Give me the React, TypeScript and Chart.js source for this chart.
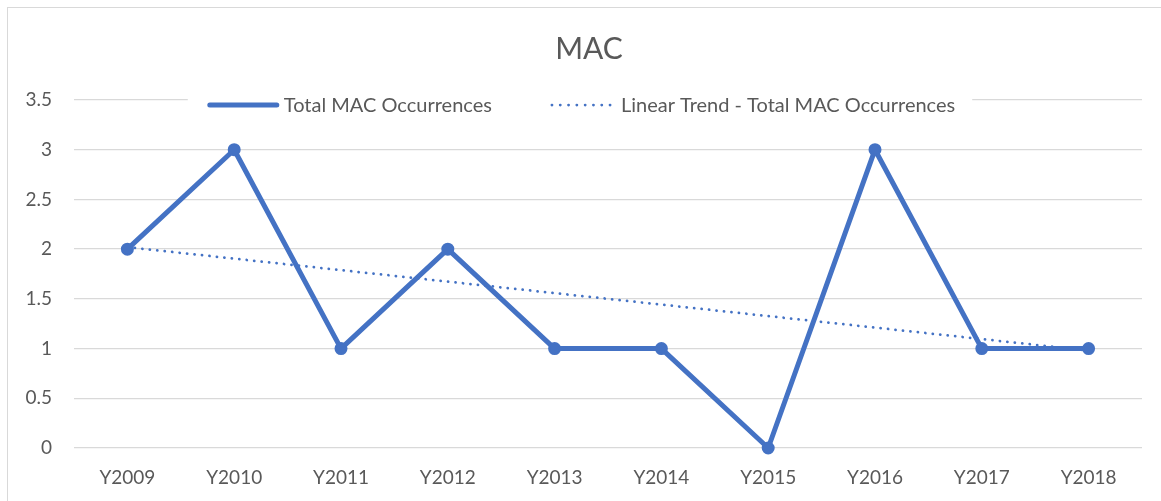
import React, { useEffect, useRef } from "react";
import { Chart, registerables } from "chart.js";

Chart.register(...registerables);

const categories = ["Y2009", "Y2010", "Y2011", "Y2012", "Y2013", "Y2014", "Y2015", "Y2016", "Y2017", "Y2018"];
const occurrences = [2, 3, 1, 2, 1, 1, 0, 3, 1, 1];
// trend line endpoints (intermediate points left empty)
const trendValues = [2.02, null, null, null, null, null, null, null, null, 0.98];
const seriesName = "Total MAC Occurrences";
const trendName = "Linear Trend - Total MAC Occurrences";
const chartTitle = "MAC";

const BLUE = "#4472C4";
const GRAY_TEXT = "#595959";
const GRID = "#d9d9d9";
const FONT = "Lato";

const framePlugin = {
  id: "frame",
  afterLayout(chart: any) {
    // Excel centres the title over the full chart object, which extends past the right edge
    if (chart.titleBlock) chart.titleBlock.left = 36;
  },
  beforeDraw(chart: any) {
    const ctx = chart.ctx;
    ctx.save();
    ctx.fillStyle = "#ffffff";
    ctx.fillRect(0, 0, chart.width, chart.height);
    ctx.strokeStyle = GRID;
    ctx.lineWidth = 1;
    ctx.strokeRect(7.5, 7.5, chart.width + 20, chart.height + 20);
    ctx.restore();
  },
};

const legendPlugin = {
  id: "excelLegend",
  beforeDatasetsDraw(chart: any) {
    const ctx = chart.ctx;
    const ds = chart.data.datasets;
    ctx.save();
    ctx.font = `20px ${FONT}`;
    const w1 = ctx.measureText(ds[0].label).width;
    const w2 = ctx.measureText(ds[1].label).width;
    const s1 = 71, g1 = 5, itemGap = 60, s2 = 60, g2 = 9;
    const total = s1 + g1 + w1 + itemGap + s2 + g2 + w2;
    const cy = 105;
    let x = chart.width / 2 + 1 - total / 2;
    ctx.fillStyle = "#ffffff";
    ctx.fillRect(x - 20, cy - 17, total + 37, 34);
    // item 1
    ctx.strokeStyle = ds[0].borderColor;
    ctx.lineWidth = 5;
    ctx.lineCap = "round";
    ctx.beginPath();
    ctx.moveTo(x + 2, cy);
    ctx.lineTo(x + s1 - 2, cy);
    ctx.stroke();
    x += s1 + g1;
    ctx.fillStyle = GRAY_TEXT;
    ctx.textBaseline = "middle";
    ctx.textAlign = "left";
    ctx.fillText(ds[0].label, x, cy + 1);
    x += w1 + itemGap;
    // item 2
    ctx.strokeStyle = ds[1].borderColor;
    ctx.lineWidth = 2.75;
    ctx.setLineDash([0.1, 8.2]);
    ctx.beginPath();
    ctx.moveTo(x, cy);
    ctx.lineTo(x + s2, cy);
    ctx.stroke();
    ctx.setLineDash([]);
    x += s2 + g2;
    ctx.fillText(ds[1].label, x, cy + 1);
    ctx.restore();
  },
};

export default function App() {
  const ref = useRef<HTMLCanvasElement>(null);
  useEffect(() => {
    if (!ref.current) return;
    const chart = new Chart(ref.current, {
      type: "line",
      data: {
        labels: categories,
        datasets: [
          {
            label: seriesName,
            data: occurrences,
            borderColor: BLUE,
            backgroundColor: BLUE,
            borderWidth: 5,
            pointRadius: 5.5,
            pointBorderWidth: 2,
            pointBackgroundColor: BLUE,
            pointBorderColor: BLUE,
            tension: 0,
            borderJoinStyle: "round",
            borderCapStyle: "round",
            clip: false,
            order: 1,
          },
          {
            label: trendName,
            data: trendValues,
            borderColor: BLUE,
            backgroundColor: BLUE,
            borderWidth: 2.75,
            borderDash: [0.1, 7.4],
            borderCapStyle: "round",
            pointRadius: 0,
            spanGaps: true,
            tension: 0,
            clip: false,
            order: 2,
          },
        ],
      },
      options: {
        responsive: false,
        devicePixelRatio: 1,
        animation: false,
        layout: { padding: { left: 16, right: 19, top: 0, bottom: 0 } },
        plugins: {
          legend: { display: false },
          tooltip: { enabled: false },
          title: {
            display: true,
            text: chartTitle,
            color: GRAY_TEXT,
            font: { family: FONT, size: 30, weight: "normal" },
            padding: { top: 31, bottom: 33 },
          },
        },
        scales: {
          x: {
            type: "category",
            offset: true,
            grid: { display: false, drawTicks: false },
            border: { display: false },
            ticks: {
              color: GRAY_TEXT,
              font: { family: FONT, size: 19 },
              padding: 18,
              maxRotation: 0,
              autoSkip: false,
            },
            afterFit: (s: any) => {
              s.height = 53;
            },
          },
          y: {
            min: 0,
            max: 3.5,
            grid: { color: GRID, lineWidth: 1.3, drawTicks: false },
            border: { display: false },
            ticks: {
              stepSize: 0.5,
              color: GRAY_TEXT,
              font: { family: FONT, size: 19 },
              padding: 22,
              callback: (v: any) => String(v),
            },
            afterFit: (s: any) => {
              s.width = 58;
            },
          },
        },
      },
      plugins: [framePlugin, legendPlugin],
    });
    return () => chart.destroy();
  }, []);
  return (
    <div style={{ position: "fixed", left: 0, top: 0, width: 1161, height: 501 }}>
      <canvas ref={ref} width={1161} height={501} />
    </div>
  );
}
